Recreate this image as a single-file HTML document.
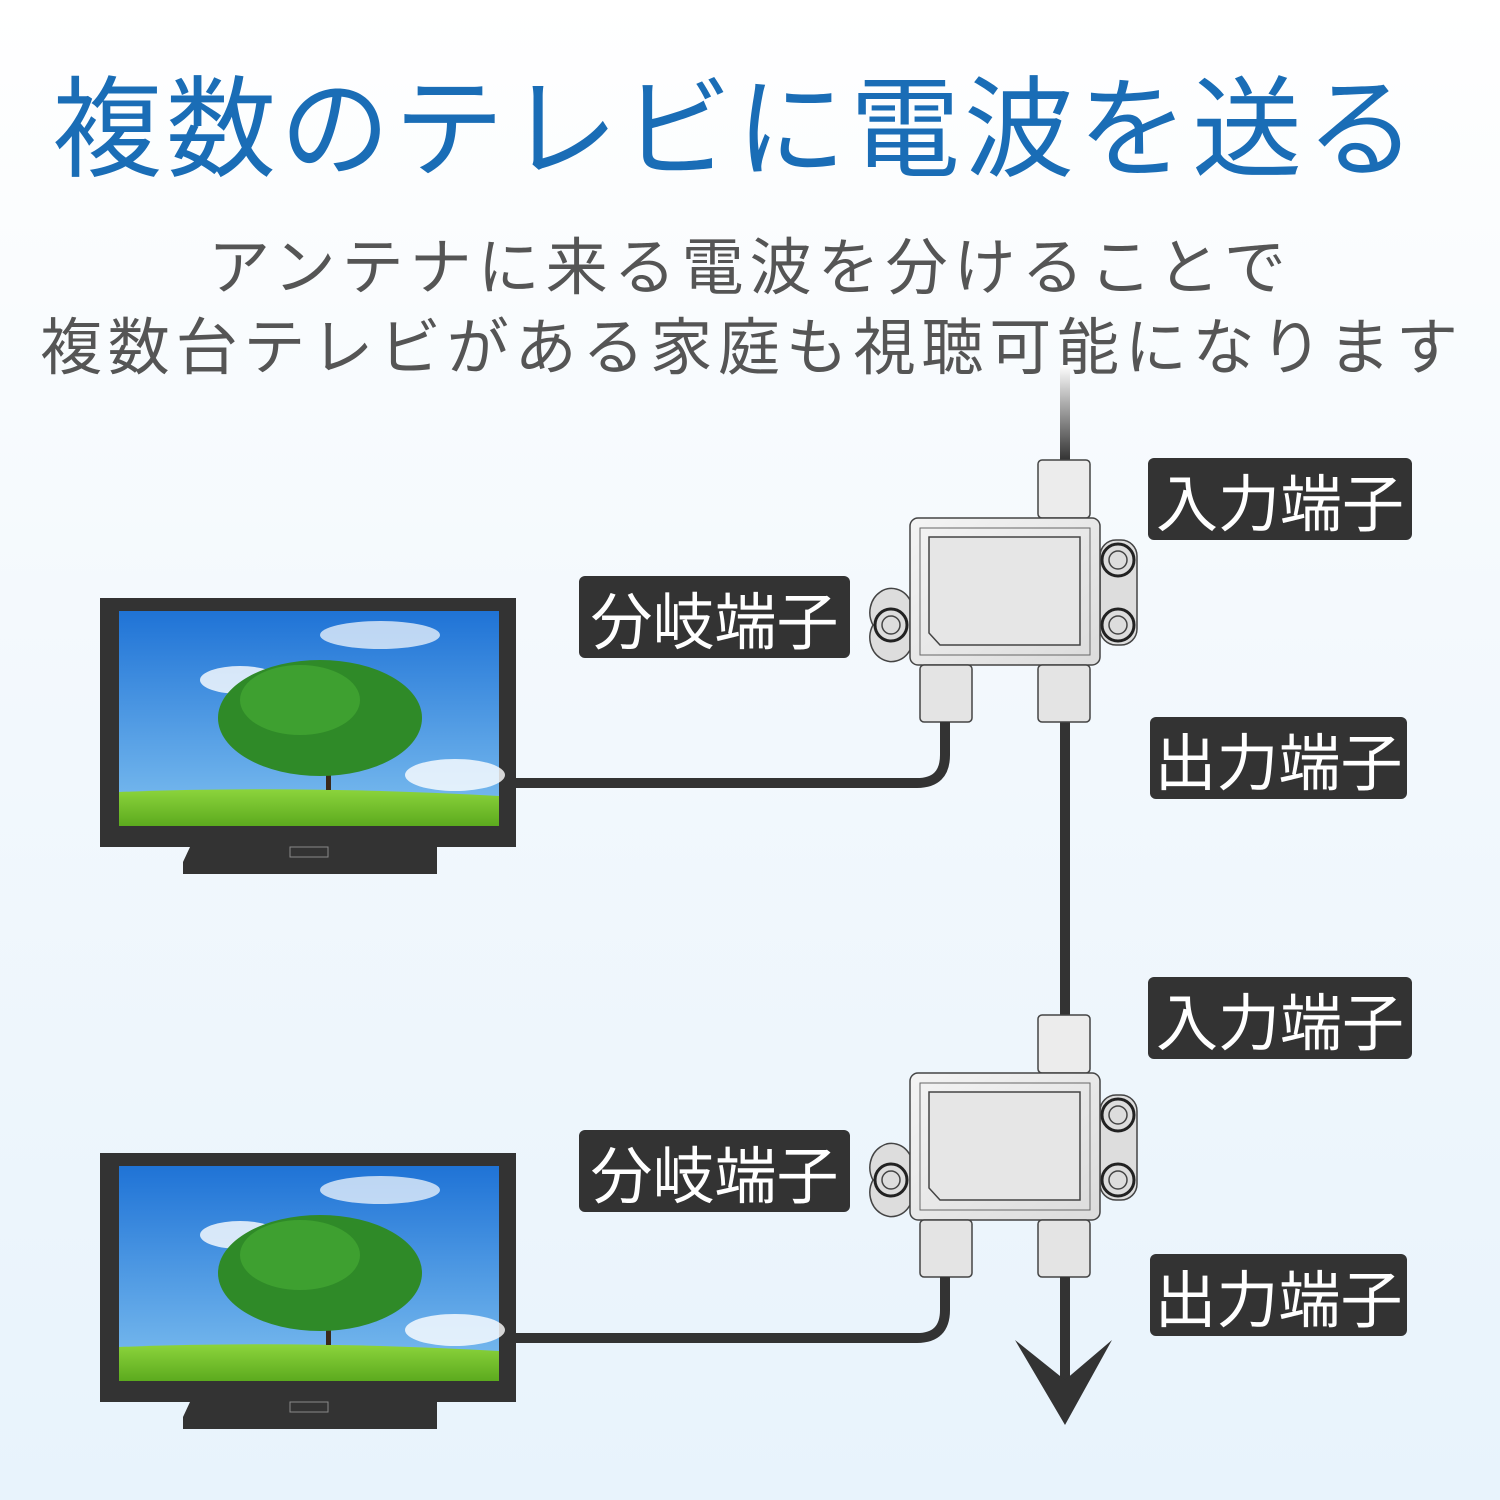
<!DOCTYPE html>
<html><head><meta charset="utf-8"><style>
html,body{margin:0;padding:0}
body{width:1500px;height:1500px;overflow:hidden;position:relative;background:linear-gradient(#ffffff 0%,#f4f9fd 40%,#e8f3fc 100%);font-family:"Liberation Sans","Noto Sans CJK JP",sans-serif}
.t{position:absolute;left:0;width:1500px;text-align:center;white-space:nowrap}
.lbl{position:absolute;background:#333;color:#fff;border-radius:6px;font-size:62px;line-height:82px;text-align:center;font-family:"Noto Sans CJK JP",sans-serif}
</style></head><body>
<div class="t" style="top:50px;left:52px;width:1440px;text-align:left;font-size:110px;color:#1a6db6;letter-spacing:4px;line-height:140px;font-family:'Noto Sans CJK JP',sans-serif">複数のテレビに電波を送る</div>
<div class="t" style="top:222px;font-size:62px;color:#555;letter-spacing:6px;line-height:80px;font-family:'Noto Sans CJK JP',sans-serif">アンテナに来る電波を分けることで</div>
<div class="t" style="top:302px;left:40px;width:1440px;text-align:left;font-size:62px;color:#555;letter-spacing:5.8px;line-height:80px;font-family:'Noto Sans CJK JP',sans-serif">複数台テレビがある家庭も視聴可能になります</div>

<svg width="1500" height="1500" style="position:absolute;left:0;top:0">
<defs>
<linearGradient id="cab" x1="0" y1="0" x2="0" y2="1"><stop offset="0" stop-color="#fff"/><stop offset="1" stop-color="#333"/></linearGradient>
<linearGradient id="sky" x1="0" y1="0" x2="0" y2="1"><stop offset="0" stop-color="#1f73d6"/><stop offset="1" stop-color="#7fc0f0"/></linearGradient>
<linearGradient id="grass" x1="0" y1="0" x2="0" y2="1"><stop offset="0" stop-color="#8cd43c"/><stop offset="1" stop-color="#5caa1e"/></linearGradient>
<linearGradient id="box" x1="0" y1="0" x2="1" y2="1"><stop offset="0" stop-color="#f4f4f4"/><stop offset="1" stop-color="#dcdcdc"/></linearGradient>
<g id="tv">
<rect x="100" y="598" width="416" height="249" fill="#333"/>
<rect x="119" y="611" width="380" height="215" fill="url(#sky)"/>
<ellipse cx="240" cy="680" rx="40" ry="14" fill="#fff" opacity=".8"/>
<ellipse cx="380" cy="635" rx="60" ry="14" fill="#fff" opacity=".7"/>
<ellipse cx="455" cy="775" rx="50" ry="16" fill="#fff" opacity=".8"/>
<path d="M119 792 Q300 785 499 796 L499 826 L119 826Z" fill="url(#grass)"/>
<rect x="326" y="760" width="5" height="30" fill="#3a2a1a"/>
<ellipse cx="320" cy="718" rx="102" ry="58" fill="#2f8a28"/>
<ellipse cx="300" cy="700" rx="60" ry="35" fill="#3ea030"/>
<path d="M190 847 L437 847 L437 862 L183 862 Z" fill="#333"/>
<rect x="183" y="862" width="254" height="12" fill="#333"/>
<rect x="290" y="847" width="38" height="10" fill="none" stroke="#888" stroke-width="1"/>
</g>
<g id="sp">
<rect x="1038" y="460" width="52" height="58" rx="4" fill="#ececec" stroke="#444" stroke-width="1.5"/>
<path d="M873 625 a18 20 0 0 1 37 -25 v50 a18 20 0 0 1 -37 -25z" fill="#ddd" stroke="#444" stroke-width="1.5"/>
<circle cx="891" cy="625" r="16" fill="#ddd" stroke="#222" stroke-width="3"/>
<circle cx="891" cy="625" r="9" fill="none" stroke="#444" stroke-width="1.5"/>
<rect x="1100" y="540" width="37" height="105" rx="16" fill="#ddd" stroke="#444" stroke-width="1.5"/>
<circle cx="1118" cy="560" r="16" fill="#ddd" stroke="#222" stroke-width="3"/>
<circle cx="1118" cy="560" r="9" fill="none" stroke="#444" stroke-width="1.5"/>
<circle cx="1118" cy="625" r="16" fill="#ddd" stroke="#222" stroke-width="3"/>
<circle cx="1118" cy="625" r="9" fill="none" stroke="#444" stroke-width="1.5"/>
<rect x="910" y="518" width="190" height="147" rx="8" fill="url(#box)" stroke="#444" stroke-width="1.5"/>
<rect x="920" y="528" width="170" height="127" fill="none" stroke="#666" stroke-width="1"/>
<path d="M929 537 H1080 V645 H940 L929 633Z" fill="#e6e6e6" stroke="#444" stroke-width="1.5"/>
<rect x="920" y="665" width="52" height="57" rx="4" fill="#e4e4e4" stroke="#444" stroke-width="1.5"/>
<rect x="1038" y="665" width="52" height="57" rx="4" fill="#e4e4e4" stroke="#444" stroke-width="1.5"/>
<path d="M945 722 V755 Q945 783 917 783 H516" fill="none" stroke="#333" stroke-width="10"/>
</g>
</defs>
<use href="#tv"/>
<use href="#tv" y="555"/>
<rect x="1060" y="365" width="10" height="95" fill="url(#cab)"/>
<rect x="1060" y="722" width="10" height="293" fill="#333"/>
<use href="#sp"/>
<g transform="translate(0,555)"><use href="#sp"/></g>
<rect x="1060" y="1277" width="10" height="110" fill="#333"/>
<path d="M1015 1340 L1065 1425 L1112 1340 L1065 1380Z" fill="#333"/>
</svg>
<div class="lbl" style="left:1148px;top:458px;width:264px">入力端子</div>
<div class="lbl" style="left:579px;top:576px;width:271px">分岐端子</div>
<div class="lbl" style="left:1150px;top:717px;width:257px">出力端子</div>
<div class="lbl" style="left:1148px;top:977px;width:264px">入力端子</div>
<div class="lbl" style="left:579px;top:1130px;width:271px">分岐端子</div>
<div class="lbl" style="left:1150px;top:1254px;width:257px">出力端子</div>
</body></html>
